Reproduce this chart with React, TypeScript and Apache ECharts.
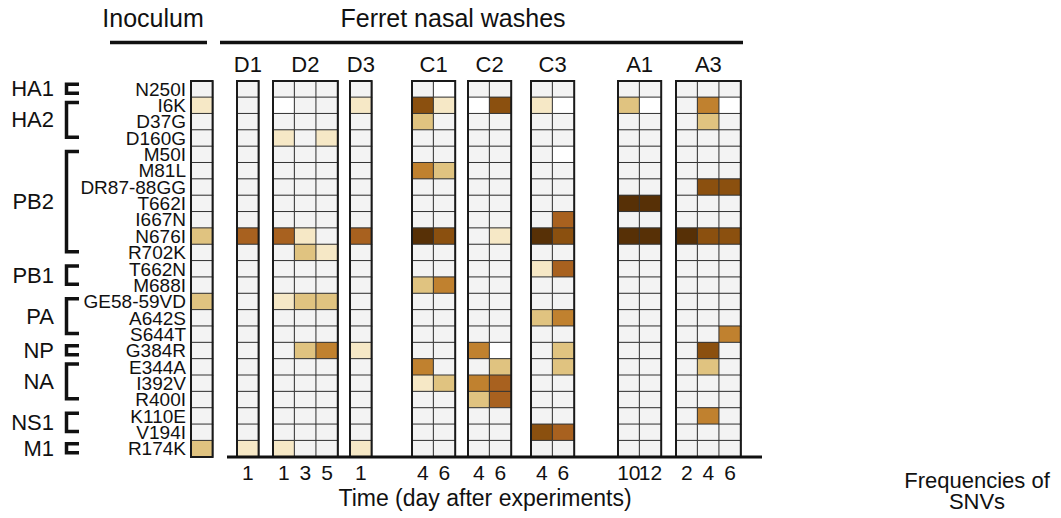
import React, { useEffect, useRef } from "react";
import * as echarts from "echarts";

const rowLabels = [
  "N250I", "I6K", "D37G", "D160G", "M50I", "M81L", "DR87-88GG", "T662I", "I667N",
  "N676I", "R702K", "T662N", "M688I", "GE58-59VD", "A642S", "S644T", "G384R",
  "E344A", "I392V", "R400I", "K110E", "V194I", "R174K",
];

const geneNames = ["HA1", "HA2", "PB2", "PB1", "PA", "NP", "NA", "NS1", "M1"];
const geneFirstRow = [0, 1, 4, 11, 13, 16, 17, 20, 22];
const geneLastRow = [0, 3, 10, 12, 15, 16, 19, 21, 22];

const groupNames = ["", "D1", "D2", "D3", "C1", "C2", "C3", "A1", "A3"];
const groupDays = [[""], ["1"], ["1", "3", "5"], ["1"], ["4", "6"], ["4", "6"], ["4", "6"], ["10", "12"], ["2", "4", "6"]];

// frequency level per row: -1 = blank, 0 = not detected, 1..6 = increasing SNV frequency
const inoculum = [0, 1, 0, 0, 0, 0, 0, 0, 0, 2, 0, 0, 0, 2, 0, 0, 0, 0, 0, 0, 0, 0, 2];
const d1Day1 = [0, 0, 0, 0, 0, 0, 0, 0, 0, 4, 0, 0, 0, 0, 0, 0, 0, 0, 0, 0, 0, 0, 1];
const d2Day1 = [0, -1, 0, 1, 0, 0, 0, 0, 0, 4, 0, 0, 0, 1, 0, 0, 0, 0, 0, 0, 0, 0, 1];
const d2Day3 = [0, 0, 0, 0, 0, 0, 0, 0, 0, 1, 2, 0, 0, 2, 0, 0, 2, 0, 0, 0, 0, 0, 0];
const d2Day5 = [0, 0, 0, 1, 0, 0, 0, 0, 0, 0, 1, 0, 0, 2, 0, 0, 3, 0, 0, 0, 0, 0, 0];
const d3Day1 = [0, 1, 0, 0, 0, 0, 0, 0, 0, 4, 0, 0, 0, 0, 0, 0, 1, 0, 0, 0, 0, 0, 1];
const c1Day4 = [0, 5, 2, 0, 0, 3, 0, 0, 0, 6, 0, 0, 2, 0, 0, 0, 0, 3, 1, 0, 0, 0, 0];
const c1Day6 = [-1, 1, 0, 0, 0, 2, 0, 0, 0, 5, 0, 0, 3, 0, 0, 0, 0, 0, 2, 0, 0, 0, 0];
const c2Day4 = [0, -1, 0, 0, 0, 0, 0, 0, 0, 0, 0, 0, 0, 0, 0, 0, 3, 0, 3, 2, 0, 0, 0];
const c2Day6 = [0, 5, 0, 0, 0, 0, 0, 0, 0, 1, 0, 0, 0, 0, 0, 0, -1, 2, 4, 4, 0, 0, 0];
const c3Day4 = [0, 1, 0, 0, 0, 0, 0, 0, 0, 6, 0, 1, 0, 0, 2, 0, 0, 0, 0, 0, 0, 5, 0];
const c3Day6 = [0, -1, 0, 0, -1, 0, 0, 0, 4, 5, 0, 4, 0, 0, 3, 0, 2, 2, 0, 0, 0, 4, 0];
const a1Day10 = [0, 2, 0, 0, 0, 0, 0, 6, 0, 6, 0, 0, 0, 0, 0, 0, 0, 0, 0, 0, 0, 0, 0];
const a1Day12 = [0, -1, 0, 0, 0, 0, 0, 6, 0, 6, 0, 0, 0, 0, 0, 0, 0, 0, 0, 0, 0, 0, 0];
const a3Day2 = [0, 0, 0, 0, 0, 0, 0, 0, 0, 6, 0, 0, 0, 0, 0, 0, 0, 0, 0, 0, 0, 0, 0];
const a3Day4 = [0, 3, 2, 0, 0, 0, 5, 0, 0, 5, 0, 0, 0, 0, 0, 0, 5, 2, 0, 0, 3, 0, 0];
const a3Day6 = [0, -1, 0, 0, 0, 0, 5, 0, 0, 5, 0, 0, 0, 0, 0, 3, 0, 0, 0, 0, 0, 0, 0];

const groupColumns = [
  [inoculum],
  [d1Day1],
  [d2Day1, d2Day3, d2Day5],
  [d3Day1],
  [c1Day4, c1Day6],
  [c2Day4, c2Day6],
  [c3Day4, c3Day6],
  [a1Day10, a1Day12],
  [a3Day2, a3Day4, a3Day6],
];

const levelValues = [-1, 0, 1, 2, 3, 4, 5, 6];
const levelColors = ["#ffffff", "#f3f3f3", "#f6e8c6", "#e0c380", "#c0812f", "#a8611f", "#8b500f", "#573006"];

// layout
const gridLefts = [191, 237, 273, 350, 412, 468, 531, 618, 676];
const cellW = 21.6;
const gridTop = 81;
const gridHeight = 376;
const FONT = "'Liberation Sans', Arial, sans-serif";

export default function App() {
  const ref = useRef<HTMLDivElement>(null);

  useEffect(() => {
    if (!ref.current) return;
    const chart = echarts.init(ref.current, null, { renderer: "svg" });

    const grids: any[] = [];
    const xAxes: any[] = [];
    const yAxes: any[] = [];
    const series: any[] = [];

    groupColumns.forEach((cols, g) => {
      grids.push({
        left: gridLefts[g],
        top: gridTop,
        width: cellW * cols.length,
        height: gridHeight,
        show: true,
        borderColor: "#1a1a1a",
        borderWidth: 2,
        backgroundColor: "transparent",
        z: 3,
      });
      xAxes.push({
        type: "category",
        gridIndex: g,
        position: "bottom",
        data: groupDays[g],
        axisLine: { show: false },
        axisTick: { show: false },
        splitLine: { show: false },
        axisLabel: { show: g > 0, interval: 0, fontSize: 21, color: "#111", margin: 5, fontFamily: FONT },
      });
      xAxes.push({
        type: "category",
        gridIndex: g,
        position: "top",
        data: [groupNames[g]],
        axisLine: { show: false },
        axisTick: { show: false },
        splitLine: { show: false },
        axisLabel: { show: g > 0, interval: 0, fontSize: 22, color: "#111", margin: 6, fontFamily: FONT },
      });
      yAxes.push({
        type: "category",
        gridIndex: g,
        data: rowLabels,
        inverse: true,
        axisLine: { show: false },
        axisTick: { show: false },
        splitLine: { show: false },
        axisLabel: {
          show: g === 0,
          interval: 0,
          fontSize: 19,
          lineHeight: 16,
          color: "#111",
          margin: 5,
          fontFamily: FONT,
        },
      });
      const data: any[] = [];
      cols.forEach((col, c) => {
        col.forEach((v, r) => data.push([c, r, v]));
      });
      series.push({
        type: "heatmap",
        xAxisIndex: g * 2,
        yAxisIndex: g,
        data,
        itemStyle: { borderColor: "#333", borderWidth: 1 },
        emphasis: { disabled: true },
      });
    });

    const rowH = gridHeight / rowLabels.length;
    const rowCenter = (i: number) => gridTop + (i + 0.5) * rowH;

    const graphics: any[] = [];
    const txt = (text: string, x: number, y: number, size: number, align = "center", lh = 22) => ({
      type: "text",
      x,
      y,
      style: {
        text,
        fill: "#111",
        fontSize: size,
        fontFamily: FONT,
        align,
        textAlign: align,
        verticalAlign: "middle",
        textVerticalAlign: "middle",
        lineHeight: lh,
      },
    });

    graphics.push(txt("Inoculum", 153, 18, 25));
    graphics.push(txt("Ferret nasal washes", 453, 18, 25));
    graphics.push(txt("Time (day after experiments)", 485, 498, 23));
    graphics.push(txt("Frequencies of\nSNVs", 977, 491, 22, "center", 21));

    const hline = (x1: number, x2: number, y: number, w: number) => ({
      type: "line",
      shape: { x1, y1: y, x2, y2: y },
      style: { stroke: "#111", lineWidth: w },
      z: 10,
    });
    graphics.push(hline(110, 207, 42.5, 3.5));
    graphics.push(hline(220, 743, 42.5, 3.5));
    graphics.push(hline(227, 762, 457, 3));

    geneNames.forEach((name, i) => {
      const single = geneFirstRow[i] === geneLastRow[i];
      const top = single ? rowCenter(geneFirstRow[i]) - 5 : rowCenter(geneFirstRow[i]) - 3;
      const bottom = single ? rowCenter(geneLastRow[i]) + 4 : rowCenter(geneLastRow[i]) - 1;
      graphics.push({
        type: "polyline",
        shape: { points: [[79, top], [66.5, top], [66.5, bottom], [79, bottom]] },
        style: { stroke: "#111", lineWidth: 3.5, fill: null, lineJoin: "miter", lineCap: "butt" },
      });
      graphics.push(txt(name, 54, (top + bottom) / 2, 22, "right"));
    });

    chart.setOption({
      animation: false,
      textStyle: { fontFamily: FONT },
      grid: grids,
      xAxis: xAxes,
      yAxis: yAxes,
      visualMap: {
        type: "piecewise",
        show: false,
        dimension: 2,
        pieces: levelValues.map((v, i) => ({ value: v, color: levelColors[i] })),
      },
      series,
      graphic: graphics,
    });

    return () => chart.dispose();
  }, []);

  return (
    <div
      ref={ref}
      style={{ position: "fixed", left: 0, top: 0, width: 1061, height: 518, background: "#fff" }}
    />
  );
}
